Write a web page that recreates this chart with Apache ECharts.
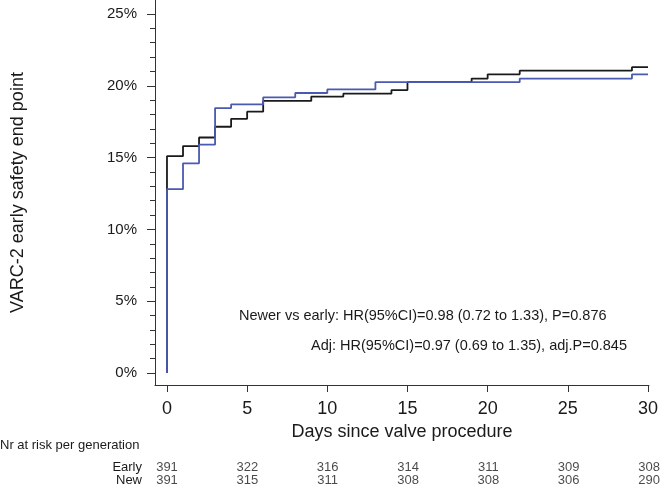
<!DOCTYPE html>
<html>
<head>
<meta charset="utf-8">
<script src="https://cdn.jsdelivr.net/npm/echarts@6/dist/echarts.min.js"></script>
<style>
html,body{margin:0;padding:0;background:#fff;}
#chart{width:661px;height:488px;}
</style>
</head>
<body>
<div id="chart"></div>
<script>
// Cumulative incidence (%) step curves
var earlyDays = [0, 0, 1, 2, 3, 4, 5, 6, 9, 11, 14, 15, 19, 20, 22, 29, 30];
var earlyRisk = [0, 15.1, 15.8, 16.4, 17.15, 17.7, 18.2, 18.95, 19.25, 19.45, 19.7, 20.25, 20.5, 20.8, 21.05, 21.3, 21.3];
var newDays = [0, 0, 1, 2, 3, 4, 6, 8, 10, 13, 22, 29, 30];
var newRisk = [0, 12.8, 14.6, 15.9, 18.45, 18.7, 19.2, 19.5, 19.75, 20.25, 20.5, 20.8, 20.8];

// Axis ticks
var xTicks = [0, 5, 10, 15, 20, 25, 30];
var yMajorTicks = [0, 5, 10, 15, 20, 25];
var yMinorTicks = [1, 2, 3, 4, 6, 7, 8, 9, 11, 12, 13, 14, 16, 17, 18, 19, 21, 22, 23, 24];

// Numbers at risk
var riskGroups = ['Early', 'New'];
var riskDays = [0, 5, 10, 15, 20, 25, 30];
var riskEarly = [391, 322, 316, 314, 311, 309, 308];
var riskNew = [391, 315, 311, 308, 308, 306, 290];

var annotation1 = 'Newer vs early: HR(95%CI)=0.98 (0.72 to 1.33), P=0.876';
var annotation2 = 'Adj: HR(95%CI)=0.97 (0.69 to 1.35), adj.P=0.845';

function pairs(xs, ys) { return xs.map(function (x, i) { return [x, ys[i]]; }); }
var riskData = [];
riskDays.forEach(function (d, i) {
  riskData.push({ value: [d, 0], count: riskEarly[i] });
  riskData.push({ value: [d, 1], count: riskNew[i] });
});

var FONT = "'Liberation Sans', Arial, sans-serif";
var TXT = '#1a1a1a';
var AX = '#333333';
var XMIN = -0.747, XMAX = 30.06;
var YMIN = -0.836, YMAX = 25.975;

var chart = echarts.init(document.getElementById('chart'));
chart.setOption({
  animation: false,
  backgroundColor: '#ffffff',
  textStyle: { fontFamily: FONT, color: TXT },
  grid: [
    { left: 155, right: 11, top: 0, bottom: 103, containLabel: false },
    { left: 155, right: 11, top: 461, height: 26, containLabel: false }
  ],
  xAxis: [
    {
      type: 'value', gridIndex: 0, min: XMIN, max: XMAX,
      name: 'Days since valve procedure', nameLocation: 'middle', nameGap: 33,
      nameTextStyle: { fontSize: 18, color: TXT, fontFamily: FONT },
      axisLine: { show: true, onZero: false, lineStyle: { color: AX, width: 1 } },
      axisTick: { show: true, customValues: xTicks, length: 7, lineStyle: { color: AX } },
      axisLabel: { show: true, customValues: xTicks, fontSize: 18, margin: 15, color: TXT, fontFamily: FONT },
      splitLine: { show: false }
    },
    {
      type: 'value', gridIndex: 1, min: XMIN, max: XMAX,
      axisLine: { show: false }, axisTick: { show: false }, axisLabel: { show: false }, splitLine: { show: false }
    }
  ],
  yAxis: [
    {
      type: 'value', gridIndex: 0, min: YMIN, max: YMAX, position: 'left',
      name: 'VARC-2 early safety end point', nameLocation: 'middle', nameGap: 128,
      nameTextStyle: { fontSize: 18, color: TXT, fontFamily: FONT },
      axisLine: { show: true, onZero: false, lineStyle: { color: AX, width: 1 } },
      axisTick: { show: true, customValues: yMajorTicks, length: 8, lineStyle: { color: AX } },
      axisLabel: { show: true, customValues: yMajorTicks, formatter: '{value}%', fontSize: 15, margin: 18, color: TXT, fontFamily: FONT },
      splitLine: { show: false }
    },
    {
      type: 'value', gridIndex: 0, min: YMIN, max: YMAX, position: 'left',
      axisLine: { show: false, onZero: false },
      axisTick: { show: true, customValues: yMinorTicks, length: 5, lineStyle: { color: AX } },
      axisLabel: { show: false },
      splitLine: { show: false }
    },
    {
      type: 'category', gridIndex: 1, data: riskGroups, inverse: true,
      axisLine: { show: false, onZero: false }, axisTick: { show: false },
      axisLabel: { show: true, interval: 0, fontSize: 13, margin: 13, color: TXT, fontFamily: FONT },
      splitLine: { show: false }
    }
  ],
  series: [
    {
      type: 'line', name: 'Early', xAxisIndex: 0, yAxisIndex: 0, step: 'end',
      data: pairs(earlyDays, earlyRisk), showSymbol: false, symbol: 'none',
      lineStyle: { color: '#1a1a1a', width: 1.8 }, z: 2
    },
    {
      type: 'line', name: 'New', xAxisIndex: 0, yAxisIndex: 0, step: 'end',
      data: pairs(newDays, newRisk), showSymbol: false, symbol: 'none',
      lineStyle: { color: '#4a5ab0', width: 1.8 }, z: 3
    },
    {
      type: 'scatter', xAxisIndex: 1, yAxisIndex: 2,
      data: riskData, symbolSize: 0, itemStyle: { color: 'transparent' },
      labelLayout: { hideOverlap: false },
      label: {
        show: true, position: 'inside', fontSize: 13, color: TXT, fontFamily: FONT,
        formatter: function (p) { return String(p.data.count); }
      },
      silent: true
    }
  ],
  graphic: [
    { type: 'text', left: 0, top: 439, style: { text: 'Nr at risk per generation', font: '13px ' + FONT, fill: TXT } },
    { type: 'text', left: 239, top: 308, style: { text: annotation1, font: '14.5px ' + FONT, fill: TXT } },
    { type: 'text', left: 311, top: 338, style: { text: annotation2, font: '14.5px ' + FONT, fill: TXT } }
  ]
});
</script>
</body>
</html>
